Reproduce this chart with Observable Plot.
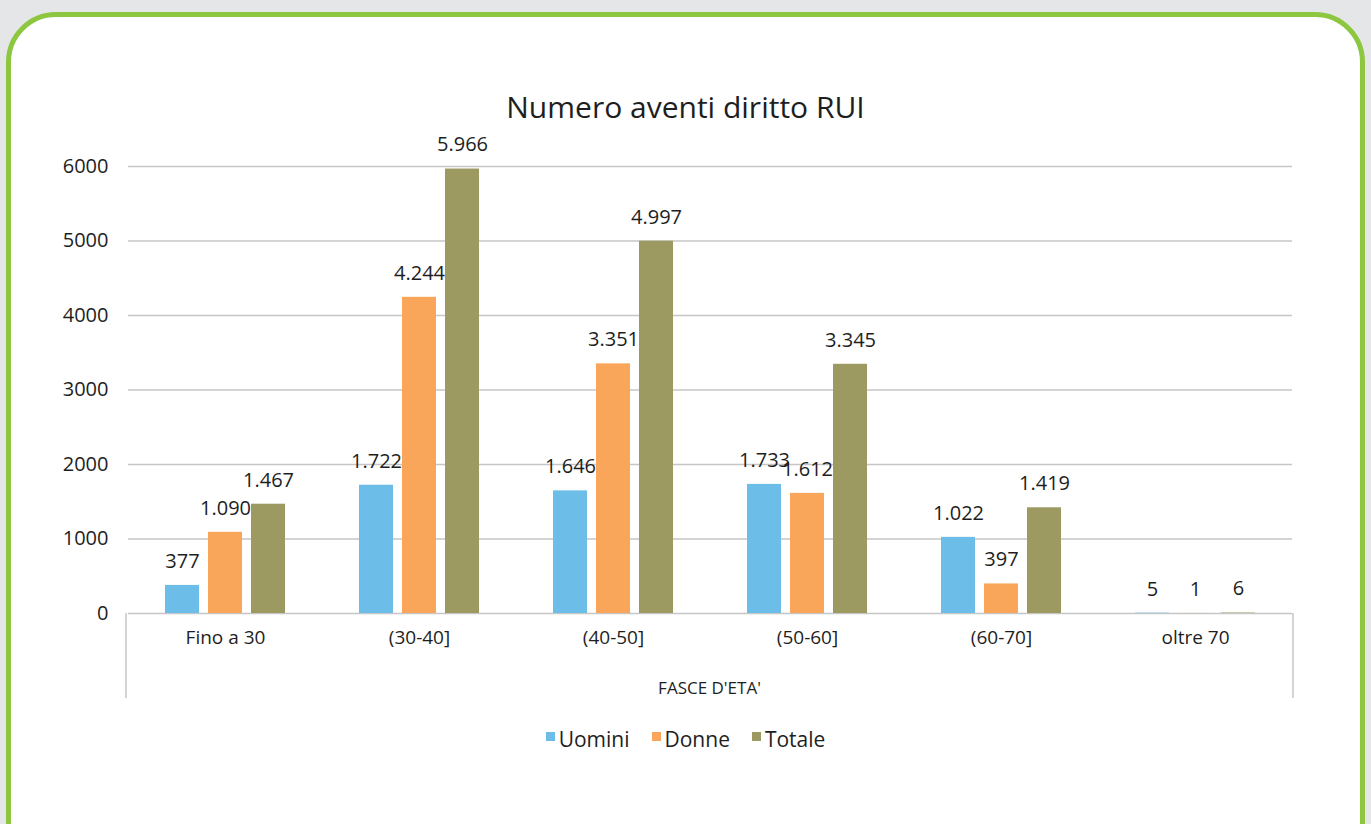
<!DOCTYPE html>
<html>
<head>
<meta charset="utf-8">
<script src="https://cdn.jsdelivr.net/npm/d3@7"></script>
<script src="https://cdn.jsdelivr.net/npm/@observablehq/plot@0.6"></script>
<style>
  html, body { margin: 0; padding: 0; }
  body { width: 1371px; height: 824px; background: #e4e6e8; position: relative; overflow: hidden; font-family: "Open Sans", sans-serif; }
  #card { position: absolute; left: 6px; top: 12px; width: 1359px; height: 880px; box-sizing: border-box; border: 5px solid #8dc63f; border-radius: 50px; background: #fff; }
  #title { position: absolute; left: 0; top: 86px; width: 1371px; text-align: center; font-size: 30px; color: #1e1e1e; }
  #chart { position: absolute; left: 0; top: 130px; }
  #legend { position: absolute; left: 0; top: 725px; width: 1371px; display: flex; justify-content: center; gap: 22px; font-size: 21px; color: #1e1e1e; }
  .item { display: flex; align-items: flex-start; }
  .sw { width: 9px; height: 9px; margin-top: 7px; margin-right: 4px; }
</style>
</head>
<body>
<div id="card"></div>
<div id="title">Numero aventi diritto RUI</div>
<div id="chart"></div>
<div id="legend"></div>
<script>
const categories = ["Fino a 30", "(30-40]", "(40-50]", "(50-60]", "(60-70]", "oltre 70"];
const series = ["Uomini", "Donne", "Totale"];
const uomini = [377, 1722, 1646, 1733, 1022, 5];
const donne = [1090, 4244, 3351, 1612, 397, 1];
const totale = [1467, 5966, 4997, 3345, 1419, 6];
const yTicks = [0, 1000, 2000, 3000, 4000, 5000, 6000];
const colors = ["#6cbde8", "#f9a65a", "#9c9a61"];
const axisTitle = "FASCE D'ETA'";

const values = [uomini, donne, totale];
const data = [];
categories.forEach((c, i) => series.forEach((s, j) => data.push({cat: c, series: s, value: values[j][i]})));

const it = d3.formatLocale({decimal: ",", thousands: ".", grouping: [3], currency: ["", "€"]});
const fmt = it.format(",d");

const plot = Plot.plot({
  width: 1371,
  height: 580,
  marginLeft: 126,
  marginRight: 78,
  marginTop: 36,
  marginBottom: 97,
  style: {fontFamily: "Open Sans, sans-serif", color: "#1e1e1e", background: "transparent"},
  fx: {domain: categories, padding: 0},
  x: {domain: series, paddingInner: 0.21, paddingOuter: 0.85, axis: null},
  y: {domain: [0, 6000], axis: null},
  color: {domain: series, range: colors},
  marks: [
    Plot.gridY(yTicks, {stroke: "#c6c6c6", strokeOpacity: 1, strokeWidth: 1.5}),
    Plot.axisY(yTicks, {tickSize: 0, tickPadding: 20, fontSize: 20, tickFormat: d => String(d), label: null}),
    Plot.axisFx({anchor: "bottom", tickSize: 0, tickPadding: 17, fontSize: 19, label: null}),
    Plot.barY(data, {fx: "cat", x: "series", y: "value", fill: "series"}),
    Plot.text(data, {fx: "cat", x: "series", y: "value", text: d => fmt(d.value), dy: -24, fontSize: 20, fill: "#1e1e1e"})
  ]
});
document.getElementById("chart").appendChild(plot);

// frame side lines below the baseline and the axis title
const fxR = plot.scale("fx").range;
const y0 = plot.scale("y").apply(0);
const svg = d3.select(plot);
[fxR[0], fxR[1]].forEach(x => {
  svg.append("line").attr("x1", x).attr("x2", x).attr("y1", y0).attr("y2", y0 + 85)
    .attr("stroke", "#c6c6c6").attr("stroke-width", 1.5);
});
svg.append("text")
  .attr("x", (fxR[0] + fxR[1]) / 2)
  .attr("y", y0 + 75)
  .attr("dy", "0.35em")
  .attr("text-anchor", "middle")
  .attr("font-size", 17)
  .attr("fill", "#1e1e1e")
  .text(axisTitle);

const legend = document.getElementById("legend");
series.forEach((s, i) => {
  const item = document.createElement("div");
  item.className = "item";
  const sw = document.createElement("div");
  sw.className = "sw";
  sw.style.background = colors[i];
  const t = document.createElement("span");
  t.textContent = s;
  item.appendChild(sw); item.appendChild(t);
  legend.appendChild(item);
});
</script>
</body>
</html>
